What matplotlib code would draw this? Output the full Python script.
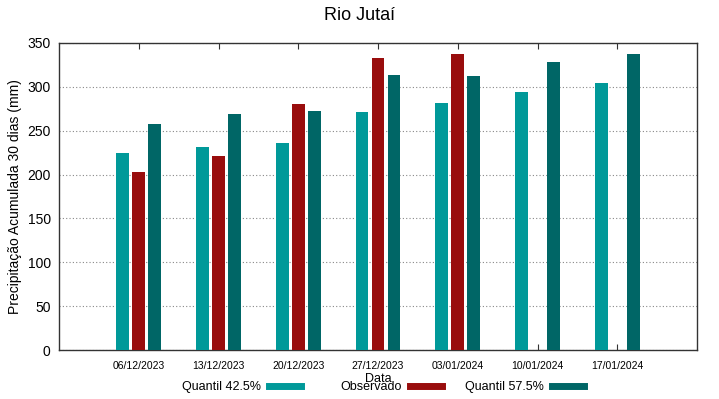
import matplotlib
matplotlib.use("Agg")
import matplotlib.pyplot as plt
import numpy as np
from matplotlib.lines import Line2D

plt.rcParams['font.family'] = ['Liberation Sans', 'DejaVu Sans']

dates = ["06/12/2023", "13/12/2023", "20/12/2023", "27/12/2023",
         "03/01/2024", "10/01/2024", "17/01/2024"]
q425 = [225, 232, 236.5, 271.5, 282, 294, 304]
observado = [203, 221, 280, 333, 337, None, None]
q575 = [258, 268.5, 273, 314, 312, 328.5, 337]
series_names = ["Quantil 42.5%", "Observado", "Quantil 57.5%"]

c1, c2, c3 = "#009999", "#990d0d", "#006666"

fig = plt.figure(figsize=(7.19, 3.99), dpi=100)
ax = fig.add_axes([59/719, 1-350/399, (697-59)/719, (350-43)/399])

x = np.arange(1, len(dates)+1)
w = 0.16
off = 0.2
ax.bar(x-off, q425, width=w, color=c1, zorder=3)
obs_x = [xi for xi, v in zip(x, observado) if v is not None]
obs_v = [v for v in observado if v is not None]
ax.bar(np.array(obs_x), obs_v, width=w, color=c2, zorder=3)
ax.bar(x+off, q575, width=w, color=c3, zorder=3)

ax.set_xlim(0, 8)
ax.set_ylim(0, 350)
ax.set_xticks(x)
ax.set_xticklabels(dates, fontsize=7.5)
ax.set_yticks(np.arange(0, 351, 50))
ax.tick_params(axis='y', labelsize=10, length=0, pad=6)
ax.tick_params(axis='x', direction='in', top=True, length=4, pad=8, color='#333333')
ax.yaxis.grid(True, linestyle=(0, (1, 2)), color='#888888', linewidth=0.8, zorder=0)
for s in ax.spines.values():
    s.set_color('#333333')
    s.set_linewidth(1)

ax.set_ylabel("Precipitação Acumulada 30 dias (mm)", fontsize=10, labelpad=4)
ax.set_xlabel("Data", fontsize=9, labelpad=1)
fig.text(0.5, 1-16/399, "Rio Jutaí", ha='center', va='center', fontsize=13)

# gnuplot-style legend: right-aligned text followed by sample
sample_ends = [301, 442, 584]
for col, name, xe in zip((c1, c2, c3), series_names, sample_ends):
    h = Line2D([0], [0], color=col, linewidth=5)
    fig.legend([h], [name], loc='center right',
               bbox_to_anchor=(xe/719, 1-387/399),
               markerfirst=False, frameon=False, fontsize=9,
               handlelength=2.6, handletextpad=0.6,
               borderpad=0, borderaxespad=0)

fig.savefig("out.png", dpi=100)
